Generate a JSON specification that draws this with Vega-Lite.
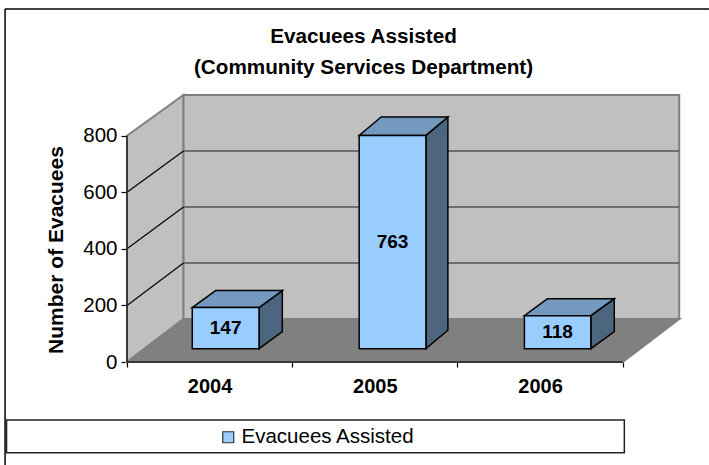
{
"$schema":"https://vega.github.io/schema/vega-lite/v6.json",
"width":553,"height":267,"autosize":"none",
"padding":{"left":127,"right":29,"top":95,"bottom":103},
"background":"white",
"config":{"view":{"stroke":null},"font":"Liberation Sans"},
"title":{"text":["Evacuees Assisted","(Community Services Department)"],"frame":"group","font":"Liberation Sans","fontSize":20.7,"fontWeight":"bold","color":"black","lineHeight":31,"anchor":"middle","dx":-40,"dy":70,"offset":0},
"datasets":{
"frame":[
{"x":-0.738,"x2":3.522,"y":1248,"y2":1248},
{"x":-0.738,"x2":-0.738,"y":1248,"y2":-365.6}],
"box":[{"x":-0.729,"x2":3.01,"y":-205,"y2":-320.6}],
"walls":[
{"face":"left","x":0,"y":0,"y2":800},{"face":"left","x":0.342,"y":152,"y2":944},
{"face":"back","x":0.342,"y":152,"y2":944},{"face":"back","x":3.342,"y":152,"y2":944}],
"floor":[{"y":0,"x":0,"x2":3},{"y":152,"x":0.342,"x2":3.342}],
"diag":[
{"level":200,"x":0,"y":200},{"level":200,"x":0.342,"y":350},
{"level":400,"x":0,"y":400},{"level":400,"x":0.342,"y":548},
{"level":600,"x":0,"y":600},{"level":600,"x":0.342,"y":746}],
"grid":[{"x":0.342,"x2":3.342,"y":350},{"x":0.342,"x2":3.342,"y":548},{"x":0.342,"x2":3.342,"y":746}],
"axes":[{"x":0,"x2":0,"y":0,"y2":800},{"x":0,"x2":3,"y":0,"y2":0}],
"bars":[
{"year":"2004","value":147,"x0":0.395,"x1":0.799,"center":0.597,"mid":73.5,"series":"Evacuees Assisted"},
{"year":"2005","value":763,"x0":1.405,"x1":1.809,"center":1.607,"mid":381.5,"series":"Evacuees Assisted"},
{"year":"2006","value":118,"x0":2.405,"x1":2.807,"center":2.606,"mid":59,"series":"Evacuees Assisted"}],
"sides":[
{"year":"2004","x":0.799,"y":147,"y2":0},{"year":"2004","x":0.94,"y":208,"y2":61},
{"year":"2005","x":1.809,"y":763,"y2":0},{"year":"2005","x":1.942,"y":829,"y2":66},
{"year":"2006","x":2.807,"y":118,"y2":0},{"year":"2006","x":2.949,"y":179,"y2":61}],
"tops":[
{"year":"2004","y":147,"x":0.395,"x2":0.799},{"year":"2004","y":208,"x":0.536,"x2":0.94},
{"year":"2005","y":763,"x":1.405,"x2":1.809},{"year":"2005","y":829,"x":1.538,"x2":1.942},
{"year":"2006","y":118,"x":2.405,"x2":2.807},{"year":"2006","y":179,"x":2.545,"x2":2.949}]
},
"resolve":{"scale":{"y":"independent"},"axis":{"x":"independent","y":"independent"}},
"layer":[
{"data":{"name":"walls"},"mark":{"type":"area","color":"#c0c0c0","stroke":"#808080","strokeWidth":2,"clip":false},
"encoding":{"detail":{"field":"face"},
"x":{"field":"x","type":"quantitative","scale":{"domain":[0,3.3468]},"axis":{"orient":"bottom","values":[0,1,2,3],"labels":false,"domain":false,"grid":false,"title":null,"tickSize":5,"tickColor":"black","tickWidth":1.2}},
"y":{"field":"y","type":"quantitative","stack":null,"scale":{"domain":[0,943.9]},"axis":{"orient":"left","values":[0,200,400,600,800],"domain":false,"grid":false,"title":"Number of Evacuees","titleFont":"Liberation Sans","titleFontSize":21,"titleFontWeight":"bold","titleColor":"black","titleX":-61,"titleY":154.5,"labelFont":"Liberation Sans","labelFontSize":20.5,"labelColor":"black","labelPadding":4,"tickSize":6,"tickColor":"black","tickWidth":1.2}},
"y2":{"field":"y2"}}},
{"data":{"name":"floor"},"mark":{"type":"area","orient":"horizontal","color":"#808080","stroke":"#808080","strokeWidth":2},
"encoding":{
"x":{"field":"x","type":"quantitative","stack":null,"scale":{"domain":[0,3.3468]},"axis":{"orient":"bottom","values":[0.5,1.5,2.5],"labelExpr":"datum.value==0.5?'2004':datum.value==1.5?'2005':'2006'","ticks":false,"domain":false,"grid":false,"title":null,"labelFont":"Liberation Sans","labelFontSize":20,"labelFontWeight":"bold","labelColor":"black","labelPadding":14}},
"x2":{"field":"x2"},
"y":{"field":"y","type":"quantitative","scale":{"domain":[0,943.9]},"axis":null}}},
{"data":{"name":"grid"},"mark":{"type":"rule","color":"#555555","strokeWidth":1.5},
"encoding":{
"x":{"field":"x","type":"quantitative","scale":{"domain":[0,3.3468]},"axis":null},
"x2":{"field":"x2"},
"y":{"field":"y","type":"quantitative","scale":{"domain":[0,943.9]},"axis":null}}},
{"data":{"name":"diag"},"mark":{"type":"line","color":"black","strokeWidth":1.2},
"encoding":{"detail":{"field":"level"},
"x":{"field":"x","type":"quantitative","scale":{"domain":[0,3.3468]},"axis":null},
"y":{"field":"y","type":"quantitative","scale":{"domain":[0,943.9]},"axis":null}}},
{"data":{"name":"axes"},"mark":{"type":"rule","color":"#222222","strokeWidth":1.5},
"encoding":{
"x":{"field":"x","type":"quantitative","scale":{"domain":[0,3.3468]},"axis":null},
"x2":{"field":"x2"},
"y":{"field":"y","type":"quantitative","scale":{"domain":[0,943.9]},"axis":null},
"y2":{"field":"y2"}}},
{"data":{"name":"frame"},"mark":{"type":"rule","color":"black","strokeWidth":1.5},
"encoding":{
"x":{"field":"x","type":"quantitative","scale":{"domain":[0,3.3468]},"axis":null},
"x2":{"field":"x2"},
"y":{"field":"y","type":"quantitative","scale":{"domain":[0,943.9]},"axis":null},
"y2":{"field":"y2"}}},
{"data":{"name":"box"},"mark":{"type":"rect","color":"white","stroke":"#222222","strokeWidth":1.5},
"encoding":{
"x":{"field":"x","type":"quantitative","scale":{"domain":[0,3.3468]},"axis":null},
"x2":{"field":"x2"},
"y":{"field":"y","type":"quantitative","scale":{"domain":[0,943.9]},"axis":null},
"y2":{"field":"y2"}}},
{"data":{"name":"sides"},"mark":{"type":"area","color":"#4d6680","stroke":"black","strokeWidth":1.5},
"encoding":{"detail":{"field":"year"},
"x":{"field":"x","type":"quantitative","scale":{"domain":[0,3.3468]},"axis":null},
"y":{"field":"y","type":"quantitative","stack":null,"scale":{"domain":[-47.6,907.7]},"axis":null},
"y2":{"field":"y2"}}},
{"data":{"name":"tops"},"mark":{"type":"area","orient":"horizontal","color":"#7399bf","stroke":"black","strokeWidth":1.5},
"encoding":{"detail":{"field":"year"},
"x":{"field":"x","type":"quantitative","stack":null,"scale":{"domain":[0,3.3468]},"axis":null},
"x2":{"field":"x2"},
"y":{"field":"y","type":"quantitative","scale":{"domain":[-47.6,907.7]},"axis":null}}},
{"data":{"name":"bars"},"mark":{"type":"rect","stroke":"black","strokeWidth":1.5},
"encoding":{
"x":{"field":"x0","type":"quantitative","scale":{"domain":[0,3.3468]},"axis":null},
"x2":{"field":"x1"},
"y":{"field":"value","type":"quantitative","scale":{"domain":[-47.6,907.7]},"axis":null},
"y2":{"datum":0},
"color":{"field":"series","type":"nominal","scale":{"domain":["Evacuees Assisted"],"range":["#99ccff"]},
"legend":{"orient":"none","legendX":91,"legendY":332,"title":null,"symbolType":"square","symbolSize":121,"symbolStrokeColor":"#333333","symbolStrokeWidth":1.2,"labelFont":"Liberation Sans","labelFontSize":20.5,"labelColor":"black","labelOffset":3,"labelLimit":400,"zindex":2}}}},
{"data":{"name":"bars"},"mark":{"type":"text","font":"Liberation Sans","fontSize":19,"fontWeight":"bold","color":"black","align":"center","baseline":"middle"},
"encoding":{
"x":{"field":"center","type":"quantitative","scale":{"domain":[0,3.3468]},"axis":null},
"y":{"field":"mid","type":"quantitative","scale":{"domain":[-47.6,907.7]},"axis":null},
"text":{"field":"value","type":"quantitative"}}}
]}
